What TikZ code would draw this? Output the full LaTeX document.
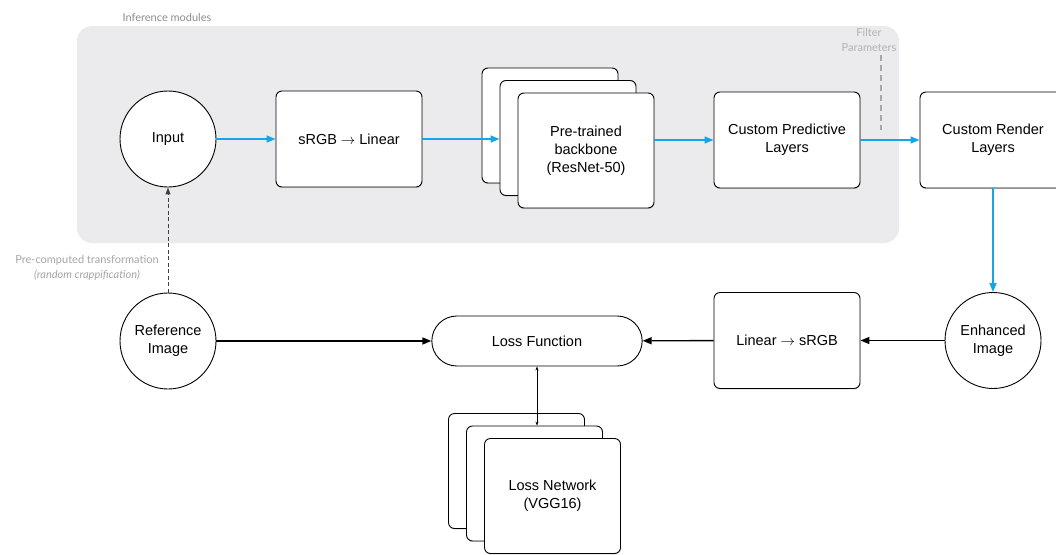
\documentclass[tikz,border=0pt]{standalone}
\usepackage{fontspec}
\setmainfont{Liberation Sans}
\newfontfamily\notefont{Lato}
\usetikzlibrary{arrows.meta,calc,shapes.misc,shadows}
\definecolor{flow}{RGB}{22,166,228}
\definecolor{panel}{RGB}{235,235,237}
\definecolor{note}{RGB}{165,165,165}
\tikzset{blk/.style={draw, fill=white, rounded corners=6pt, line width=0.9pt, align=center,
    minimum width=146pt, minimum height=96pt, font=\fontsize{14.5}{18}\selectfont,
    drop shadow={shadow xshift=0.3pt, shadow yshift=-1.2pt, opacity=0.25}},
  lyr/.style={blk, minimum width=136pt, minimum height=115pt},
  img/.style={draw, fill=white, circle, line width=0.9pt, align=center, minimum size=96pt,
    font=\fontsize{14.5}{18}\selectfont},
  fwd/.style={draw=flow, line width=1.4pt, -{Triangle[length=9pt,width=7pt]}},
  bwd/.style={line width=1.4pt, -{Triangle[length=9pt,width=7pt]}},
  note/.style={font=\notefont\fontsize{11}{15.5}\selectfont, text=note, align=center}}
\newcommand{\layerstack}[3]{% name, centre of front box, text
  \node[lyr] (#1c) at ($#2+(-36,-25)$) {};
  \node[lyr] (#1b) at ($#2+(-18,-12.5)$) {};
  \node[lyr] (#1) at #2 {#3};}

\begin{document}
\begin{tikzpicture}[x=1pt, y=-1pt]
  \useasboundingbox (0,0) rectangle (1056,554);
  % inference panel
  \fill[panel, rounded corners=15pt] (77,26) rectangle (899,243);
  \node[note, text=black!45] (title) at (167,17) {Inference modules};
  % top row
  \node[img] (input) at (168,139) {Input};
  \node[blk] (srgb) at (349,139) {sRGB $\rightarrow$ Linear};
  \layerstack{bb}{(586,150.5)}{Pre-trained\\backbone\\(ResNet-50)}
  \node[blk] (pred) at (787,140) {Custom Predictive\\Layers};
  \node[blk] (render) at (993,140) {Custom Render\\Layers};
  % filter parameters
  \node[note, text=black!30] (filter) at (869,40) {Filter\\Parameters};
  \coordinate (fp) at (881,130);
  \draw[black!35, line width=1.4pt, dash pattern=on 6pt off 4pt] (filter.south -| fp) -- (fp);
  % bottom row
  \node[img] (enh) at (993,340.5) {Enhanced\\Image};
  \node[blk] (lin) at (787,340.5) {Linear $\rightarrow$ sRGB};
  \node[draw, fill=white, rounded rectangle, line width=0.9pt, minimum width=217pt,
    minimum height=50pt, font=\fontsize{14.5}{18}\selectfont] (loss) at (537,341) {Loss Function};
  \node[img] (ref) at (168,341) {Reference\\Image};
  \layerstack{vgg}{(552.5,496)}{Loss Network\\(VGG16)}
  % flow
  \draw[fwd] (input) -- (srgb);
  \draw[fwd] (srgb.east) -- (srgb.east -| bbb.west);
  \draw[fwd] (bb.east |- pred.west) -- (pred.west);
  \draw[fwd] (pred) -- (render);
  \draw[fwd] (render) -- (enh);
  \draw[bwd] (enh) -- (lin);
  \draw[bwd] (lin) -- (loss);
  \draw[bwd] (ref) -- (loss);
  \draw[black!75, line width=1pt, dash pattern=on 4pt off 2.5pt, -{Triangle[length=7pt,width=5pt]}] (ref) -- (input);
  \draw[line width=0.6pt, {Stealth[length=4pt]}-{Stealth[length=4pt]}] (loss.south) -- (loss.south |- vggb.north);
  \node[note] (pre) at (87,268) {Pre-computed transformation\\\textit{(random crappification)}};
\end{tikzpicture}
\end{document}
